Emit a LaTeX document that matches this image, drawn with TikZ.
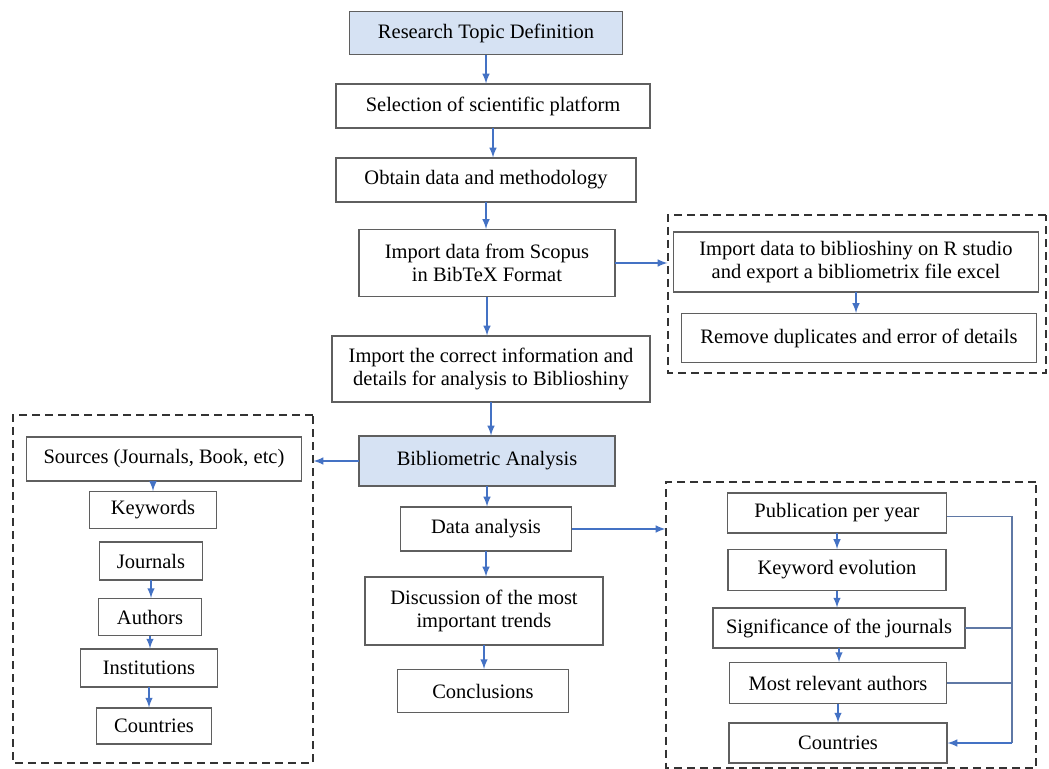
\documentclass[tikz,border=0pt]{standalone}
\usepackage{fontspec}
\setmainfont{Liberation Serif}

\definecolor{flowblue}{RGB}{68,114,196}
\definecolor{headfill}{RGB}{214,226,243}
\definecolor{boxline}{RGB}{95,95,95}

\tikzset{global scale/.style={
    	scale=#1,
    	every node/.append style={scale=#1}
  	}
}
\tikzset{
  stepbox/.style={draw=boxline, line width=0.9pt, fill=white, align=center,
    inner sep=0pt, font=\fontsize{20.5}{23}\selectfont},
  headbox/.style={stepbox, fill=headfill},
  groupbox/.style={draw=black!80, line width=1pt, dash pattern=on 4pt off 2.5pt,
    inner sep=0pt},
  flow/.style={flowblue, line width=0.7pt, -latex},
  busline/.style={flowblue!55!gray, line width=0.6pt}
}

\begin{document}
\begin{tikzpicture}[global scale = 0.5, x=1pt, y=-1pt]
		\useasboundingbox (0,0) rectangle (1049,769);

		% dashed groups
		\node [groupbox, minimum width=300pt, minimum height=348pt] (lgroup) at (163,589) {};
		\node [groupbox, minimum width=378pt, minimum height=158pt] (tgroup) at (857,294) {};
		\node [groupbox, minimum width=370pt, minimum height=285pt] (bgroup) at (851,625) {};

		% main column
		\node [headbox, minimum width=273pt, minimum height=43pt] (topic) at (486,33) {Research Topic Definition};
		\node [stepbox, minimum width=314pt, minimum height=44pt] (platform) at (493,106) {Selection of scientific platform};
		\node [stepbox, minimum width=300pt, minimum height=44pt] (obtain) at (486,180) {Obtain data and methodology};
		\node [stepbox, minimum width=256pt, minimum height=67pt] (scopus) at (487,263) {Import data from Scopus\\in BibTeX Format};
		\node [stepbox, minimum width=318pt, minimum height=66pt] (correct) at (491,369) {Import the correct information and\\details for analysis to Biblioshiny};
		\node [headbox, minimum width=256pt, minimum height=50pt] (biblio) at (487,461) {Bibliometric Analysis};
		\node [stepbox, minimum width=171pt, minimum height=44pt] (dataan) at (486,529) {Data analysis};
		\node [stepbox, minimum width=238pt, minimum height=68pt] (discuss) at (484,611) {Discussion of the most\\important trends};
		\node [stepbox, minimum width=171pt, minimum height=43pt] (concl) at (483,691) {Conclusions};

		\foreach \a/\b in {topic/platform, platform/obtain, obtain/scopus, scopus/correct,
			correct/biblio, biblio/dataan, dataan/discuss, discuss/concl}
			\draw [flow] (\a.south) -- (\a.south |- \b.north);

		% left group
		\node [stepbox, minimum width=275pt, minimum height=44pt] (sources) at (164,459) {Sources (Journals, Book, etc)};
		\node [stepbox, minimum width=127pt, minimum height=37pt] (keyw) at (153,510) {Keywords};
		\node [stepbox, minimum width=103pt, minimum height=38pt] (journ) at (151,561) {Journals};
		\node [stepbox, minimum width=103pt, minimum height=37pt] (auth) at (150,617) {Authors};
		\node [stepbox, minimum width=137pt, minimum height=38pt] (inst) at (149,668) {Institutions};
		\node [stepbox, minimum width=115pt, minimum height=36pt] (lcountry) at (154,726) {Countries};

		\draw [flow] (sources.south -| keyw.north) -- (keyw.north);
		\foreach \a/\b in {journ/auth, auth/inst, inst/lcountry}
			\draw [flow] (\a.south) -- (\a.south |- \b.north);
		\draw [flow] (biblio.west) -- (biblio.west -| lgroup.east);

		% top right group
		\node [stepbox, minimum width=365pt, minimum height=60pt] (rstudio) at (856,262) {Import data to biblioshiny on R studio\\and export a bibliometrix file excel};
		\node [stepbox, minimum width=355pt, minimum height=49pt] (dupl) at (859,338) {Remove duplicates and error of details};

		\draw [flow] (rstudio.south) -- (rstudio.south |- dupl.north);
		\draw [flow] (scopus.east) -- (scopus.east -| tgroup.west);

		% bottom right group
		\node [stepbox, minimum width=219pt, minimum height=40pt] (pub) at (837,513) {Publication per year};
		\node [stepbox, minimum width=218pt, minimum height=41pt] (kevo) at (837,570) {Keyword evolution};
		\node [stepbox, minimum width=252pt, minimum height=40pt] (signif) at (839,628) {Significance of the journals};
		\node [stepbox, minimum width=217pt, minimum height=41pt] (relev) at (838,683) {Most relevant authors};
		\node [stepbox, minimum width=218pt, minimum height=40pt] (rcountry) at (838,743) {Countries};

		\foreach \a/\b in {pub/kevo, kevo/signif, signif/relev, relev/rcountry}
			\draw [flow] (\a.south) -- (\a.south |- \b.north);
		\draw [flow] (dataan.east) -- (dataan.east -| bgroup.west);

		\coordinate (bus) at (1012,0);
		\draw [busline] ([yshift=-3.5pt]pub.east) -- ([yshift=-3.5pt]pub.east -| bus) -- (rcountry.east -| bus);
		\draw [busline] (signif.east) -- (signif.east -| bus);
		\draw [busline] (relev.east) -- (relev.east -| bus);
		\draw [flow] (rcountry.east -| bus) -- (rcountry.east);
	\end{tikzpicture}
\end{document}
